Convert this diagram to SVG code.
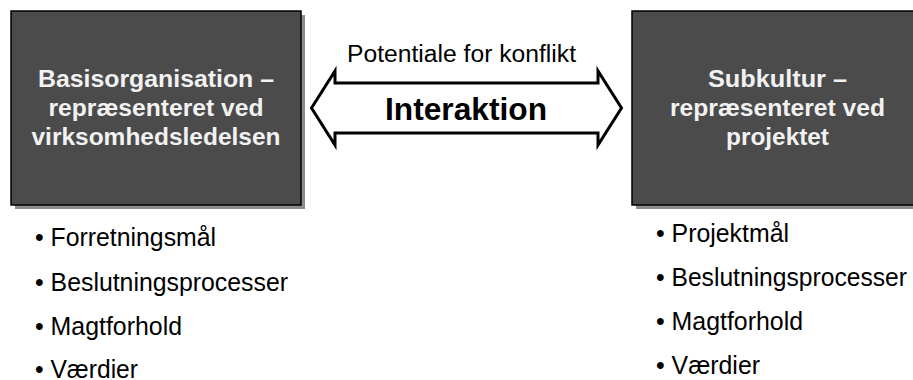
<svg xmlns="http://www.w3.org/2000/svg" width="913" height="380" viewBox="0 0 913 380">
  <style>
    .shadow { fill: #8c8c8c; }
    .box { fill: #4b4b4b; stroke: #000; stroke-width: 1.5; }
    .boxtext { font-family: "Liberation Sans", Arial, sans-serif; font-weight: bold; font-size: 24px; fill: #f2f2f2; text-anchor: middle; }
    .bullet { font-family: "Liberation Sans", Arial, sans-serif; font-size: 25px; fill: #000; }
    .label { font-family: "Liberation Sans", Arial, sans-serif; fill: #000; text-anchor: middle; }
    .arrow { fill: #fff; stroke: #000; stroke-width: 3; stroke-linejoin: miter; }
  </style>

  <rect width="913" height="380" fill="#fff"/>

  <!-- left organisation box -->
  <g id="basisorganisation">
    <rect class="shadow" x="15" y="15" width="290" height="194"/>
    <rect class="box" x="11" y="11" width="290" height="194"/>
    <text class="boxtext" x="156" y="87" textLength="236" lengthAdjust="spacingAndGlyphs">Basisorganisation –</text>
    <text class="boxtext" x="156" y="116" textLength="215" lengthAdjust="spacingAndGlyphs">repræsenteret ved</text>
    <text class="boxtext" x="156" y="145" textLength="249" lengthAdjust="spacingAndGlyphs">virksomhedsledelsen</text>
  </g>

  <!-- right subculture box -->
  <g id="subkultur">
    <rect class="shadow" x="636" y="15" width="290" height="194"/>
    <rect class="box" x="632" y="11" width="290" height="194"/>
    <text class="boxtext" x="777.5" y="87" textLength="139" lengthAdjust="spacingAndGlyphs">Subkultur –</text>
    <text class="boxtext" x="777.5" y="116" textLength="215" lengthAdjust="spacingAndGlyphs">repræsenteret ved</text>
    <text class="boxtext" x="777.5" y="145" textLength="103" lengthAdjust="spacingAndGlyphs">projektet</text>
  </g>

  <!-- double-headed interaction arrow -->
  <g id="connectors">
    <path class="arrow" d="M311.5,108 L335,71 L335,83 L598,83 L598,71 L621.5,108 L598,145 L598,133 L335,133 L335,145 Z"/>
    <text class="label" x="461.5" y="62" font-size="23" textLength="229" lengthAdjust="spacingAndGlyphs">Potentiale for konflikt</text>
    <text class="label" x="466" y="120" font-size="31" font-weight="bold" textLength="162" lengthAdjust="spacingAndGlyphs">Interaktion</text>
  </g>

  <!-- left bullet list -->
  <g id="liste-venstre">
    <text class="bullet" x="35" y="246" textLength="181" lengthAdjust="spacingAndGlyphs">• Forretningsmål</text>
    <text class="bullet" x="35" y="291" textLength="253" lengthAdjust="spacingAndGlyphs">• Beslutningsprocesser</text>
    <text class="bullet" x="35" y="335" textLength="147" lengthAdjust="spacingAndGlyphs">• Magtforhold</text>
    <text class="bullet" x="35" y="378" textLength="103" lengthAdjust="spacingAndGlyphs">• Værdier</text>
  </g>

  <!-- right bullet list -->
  <g id="liste-hoejre">
    <text class="bullet" x="656" y="242" textLength="133" lengthAdjust="spacingAndGlyphs">• Projektmål</text>
    <text class="bullet" x="656" y="286" textLength="251" lengthAdjust="spacingAndGlyphs">• Beslutningsprocesser</text>
    <text class="bullet" x="656" y="330" textLength="147" lengthAdjust="spacingAndGlyphs">• Magtforhold</text>
    <text class="bullet" x="656" y="374" textLength="104" lengthAdjust="spacingAndGlyphs">• Værdier</text>
  </g>
</svg>
